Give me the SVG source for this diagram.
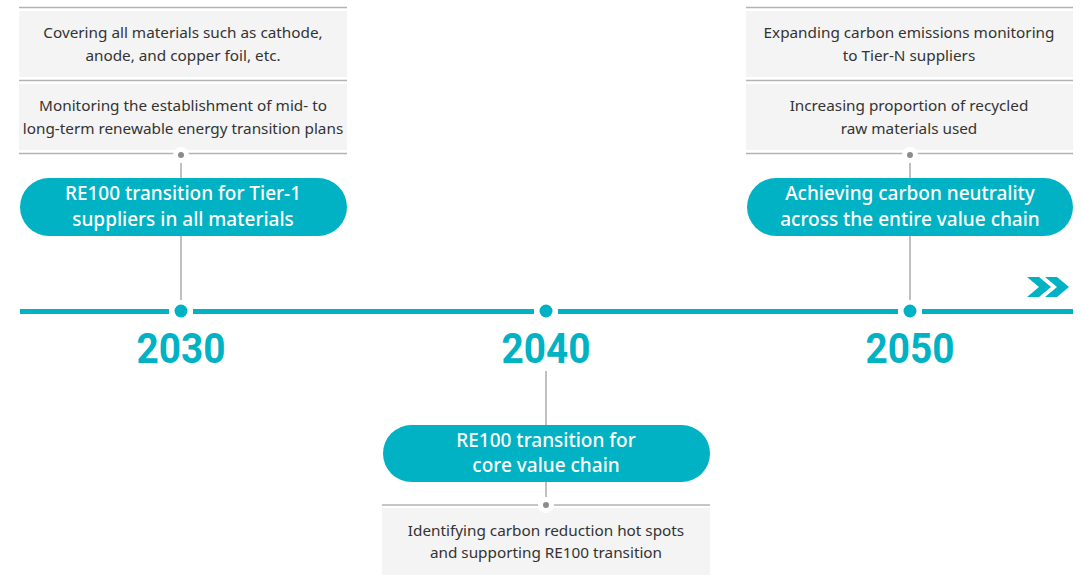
<svg xmlns="http://www.w3.org/2000/svg" width="1082" height="575" viewBox="0 0 1082 575">
<style>
.box{fill:#f4f4f4}
.sep{stroke:#b3b3b3;stroke-width:1.6;fill:none}
.conn{stroke:#9e9e9e;stroke-width:1.3;fill:none}
.dot{fill:#8c8c8c}
.gap{fill:#ffffff}
.pill{fill:#00b2c3}
.desc{font-family:"Noto Sans","Open Sans",sans-serif;font-size:15.3px;fill:#333333;text-anchor:middle}
.ptxt{font-family:"Noto Sans","Open Sans",sans-serif;font-size:19px;font-weight:500;fill:#ffffff;text-anchor:middle}
.year{font-family:Roboto,"Liberation Sans",sans-serif;font-size:42px;font-weight:700;fill:#00b2c3;text-anchor:middle}
.tl{stroke:#00b2c3;stroke-width:5;fill:none}
.mark{fill:#00b2c3}
</style>
<rect width="1082" height="575" fill="#ffffff"/>

<g id="timeline">
  <line class="tl" x1="20" y1="311.5" x2="169" y2="311.5"/>
  <line class="tl" x1="193" y1="311.5" x2="534" y2="311.5"/>
  <line class="tl" x1="558" y1="311.5" x2="898" y2="311.5"/>
  <line class="tl" x1="922" y1="311.5" x2="1073" y2="311.5"/>
  <polygon class="mark" points="1027,277 1039,277 1051,287 1039,297 1027,297 1039,287"/>
  <polygon class="mark" points="1045,277 1057,277 1069,287 1057,297 1045,297 1057,287"/>
</g>

<g id="connectors">
  <line class="conn" x1="181" y1="155" x2="181" y2="179"/>
  <line class="conn" x1="181" y1="236" x2="181" y2="300"/>
  <line class="conn" x1="910" y1="155" x2="910" y2="179"/>
  <line class="conn" x1="910" y1="236" x2="910" y2="300"/>
  <line class="conn" x1="546" y1="371" x2="546" y2="425"/>
  <line class="conn" x1="546" y1="482" x2="546" y2="505"/>
</g>

<g id="m2030">
  <circle class="mark" cx="181" cy="311" r="6.5"/>
  <text class="year" x="181" y="363" textLength="89" lengthAdjust="spacingAndGlyphs">2030</text>
</g>
<g id="m2040">
  <circle class="mark" cx="546" cy="311" r="6.5"/>
  <text class="year" x="546" y="363" textLength="89" lengthAdjust="spacingAndGlyphs">2040</text>
</g>
<g id="m2050">
  <circle class="mark" cx="910" cy="311" r="6.5"/>
  <text class="year" x="910" y="363" textLength="89" lengthAdjust="spacingAndGlyphs">2050</text>
</g>

<g id="note2030a">
  <line class="sep" x1="19" y1="7.5" x2="347" y2="7.5"/>
  <rect class="box" x="19" y="11" width="328" height="66"/>
  <text class="desc" x="183" y="38">Covering all materials such as cathode,</text>
  <text class="desc" x="183" y="61">anode, and copper foil, etc.</text>
</g>
<g id="note2030b">
  <line class="sep" x1="19" y1="80.5" x2="347" y2="80.5"/>
  <rect class="box" x="19" y="84" width="328" height="66"/>
  <text class="desc" x="183" y="111">Monitoring the establishment of mid- to</text>
  <text class="desc" x="183" y="134">long-term renewable energy transition plans</text>
  <line class="sep" x1="19" y1="153.5" x2="347" y2="153.5"/>
  <circle class="gap" cx="181" cy="155" r="8"/>
  <circle class="dot" cx="181" cy="155" r="3"/>
</g>
<g id="pill2030">
  <rect class="pill" x="20" y="178" width="327" height="58" rx="29"/>
  <text class="ptxt" x="183" y="200">RE100 transition for Tier-1</text>
  <text class="ptxt" x="183" y="226">suppliers in all materials</text>
</g>

<g id="note2050a">
  <line class="sep" x1="746" y1="7.5" x2="1073" y2="7.5"/>
  <rect class="box" x="746" y="11" width="327" height="66"/>
  <text class="desc" x="909" y="38">Expanding carbon emissions monitoring</text>
  <text class="desc" x="909" y="61">to Tier-N suppliers</text>
</g>
<g id="note2050b">
  <line class="sep" x1="746" y1="80.5" x2="1073" y2="80.5"/>
  <rect class="box" x="746" y="84" width="327" height="66"/>
  <text class="desc" x="909" y="111">Increasing proportion of recycled</text>
  <text class="desc" x="909" y="134">raw materials used</text>
  <line class="sep" x1="746" y1="153.5" x2="1073" y2="153.5"/>
  <circle class="gap" cx="910" cy="155" r="8"/>
  <circle class="dot" cx="910" cy="155" r="3"/>
</g>
<g id="pill2050">
  <rect class="pill" x="747" y="178" width="326" height="58" rx="29"/>
  <text class="ptxt" x="910" y="200">Achieving carbon neutrality</text>
  <text class="ptxt" x="910" y="226">across the entire value chain</text>
</g>

<g id="pill2040">
  <rect class="pill" x="383" y="425" width="327" height="57" rx="28.5"/>
  <text class="ptxt" x="546" y="447">RE100 transition for</text>
  <text class="ptxt" x="546" y="472">core value chain</text>
</g>
<g id="note2040">
  <line class="sep" x1="382" y1="505" x2="710" y2="505"/>
  <rect class="box" x="382" y="508" width="328" height="67"/>
  <circle class="gap" cx="546" cy="505" r="8"/>
  <circle class="dot" cx="546" cy="505" r="3"/>
  <text class="desc" x="546" y="536">Identifying carbon reduction hot spots</text>
  <text class="desc" x="546" y="558">and supporting RE100 transition</text>
</g>
</svg>
